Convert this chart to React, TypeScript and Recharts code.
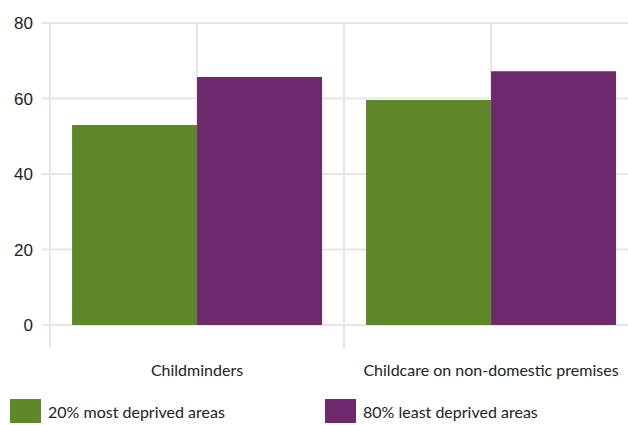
import React from 'react';
import {
    BarChart,
    Bar,
    XAxis,
    YAxis,
    CartesianGrid,
} from 'recharts';

const categories = ['Childminders', 'Childcare on non-domestic premises'];
const mostDeprived = [53, 59.6];
const leastDeprived = [65.7, 67.2];
const yTicks = [0, 20, 40, 60, 80];
// vertical grid: category edges and centres, as fractions of category index
const gridSteps = [0, 0.5, 1, 1.5, 2];

const COLORS = {
    most: '#5e882a',
    least: '#6d296b',
    grid: '#e6e6e6',
    text: '#222222',
};

const SERIES = [
    { key: 'most', name: '20% most deprived areas', color: COLORS.most },
    { key: 'least', name: '80% least deprived areas', color: COLORS.least },
];

const data = categories.map((name, i) => ({
    name,
    most: mostDeprived[i],
    least: leastDeprived[i],
}));

const FONT = 'Lato, "Noto Sans", sans-serif';
const TICK_MARGIN = 40;
const SEPARATOR_DROP = 23;

// category label plus the separator line that drops below the plot at the left edge of the band
const CategoryTick = (props: any) => {
    const { x, y, payload, width } = props;
    const band = width / categories.length;
    const left = x - band / 2;
    const top = y - TICK_MARGIN;
    return (
        <g>
            <line x1={left} y1={top} x2={left} y2={top + SEPARATOR_DROP} stroke={COLORS.grid} strokeWidth={2} />
            {payload.index === categories.length - 1 && (
                <line x1={left + band} y1={top} x2={left + band} y2={top + SEPARATOR_DROP} stroke={COLORS.grid} strokeWidth={2} />
            )}
            <text x={x} y={y} dy="0.71em" textAnchor="middle" fontSize={16} fontFamily={FONT} fill={COLORS.text}>
                {payload.value}
            </text>
        </g>
    );
};

export default function App() {
    return (
        <div
            style={{
                position: 'absolute',
                left: 0,
                top: 0,
                width: 628,
                height: 425,
                overflow: 'hidden',
                background: '#fff',
            }}
        >
            <BarChart
                width={640}
                height={425}
                data={data}
                margin={{ top: 23, right: 2, bottom: 0, left: 0 }}
                barCategoryGap="7.5%"
                barGap={0}
            >
                <CartesianGrid
                    stroke={COLORS.grid}
                    strokeWidth={2}
                    verticalCoordinatesGenerator={({ offset }: any) =>
                        gridSteps.map(s => offset.left + (s * offset.width) / categories.length)
                    }
                />
                <XAxis
                    dataKey="name"
                    height={100}
                    axisLine={false}
                    tickLine={false}
                    tickSize={0}
                    tickMargin={TICK_MARGIN}
                    tick={<CategoryTick />}
                />
                <YAxis
                    domain={[0, 80]}
                    ticks={yTicks}
                    width={50}
                    tickSize={8}
                    tickMargin={9}
                    axisLine={{ stroke: COLORS.grid, strokeWidth: 2 }}
                    tickLine={{ stroke: COLORS.grid, strokeWidth: 2 }}
                    tick={{ fontSize: 17, fontFamily: '"Liberation Sans", Arial, sans-serif', fill: COLORS.text }}
                />
                {SERIES.map(s => (
                    <Bar
                        key={s.key}
                        dataKey={s.key}
                        name={s.name}
                        fill={s.color}
                        isAnimationActive={false}
                    />
                ))}
            </BarChart>
            <div
                style={{
                    position: 'absolute',
                    top: 399,
                    left: 0,
                    width: 628,
                    fontFamily: FONT,
                    fontSize: 16,
                    color: COLORS.text,
                }}
            >
                {SERIES.map((s, i) => (
                    <div
                        key={s.key}
                        style={{
                            position: 'absolute',
                            left: i === 0 ? 10 : 325,
                            top: 0,
                            display: 'flex',
                            alignItems: 'center',
                            gap: 7,
                            whiteSpace: 'nowrap',
                        }}
                    >
                        <span style={{ width: 31, height: 24, background: s.color, display: 'inline-block' }} />
                        <span>{s.name}</span>
                    </div>
                ))}
            </div>
        </div>
    );
}
